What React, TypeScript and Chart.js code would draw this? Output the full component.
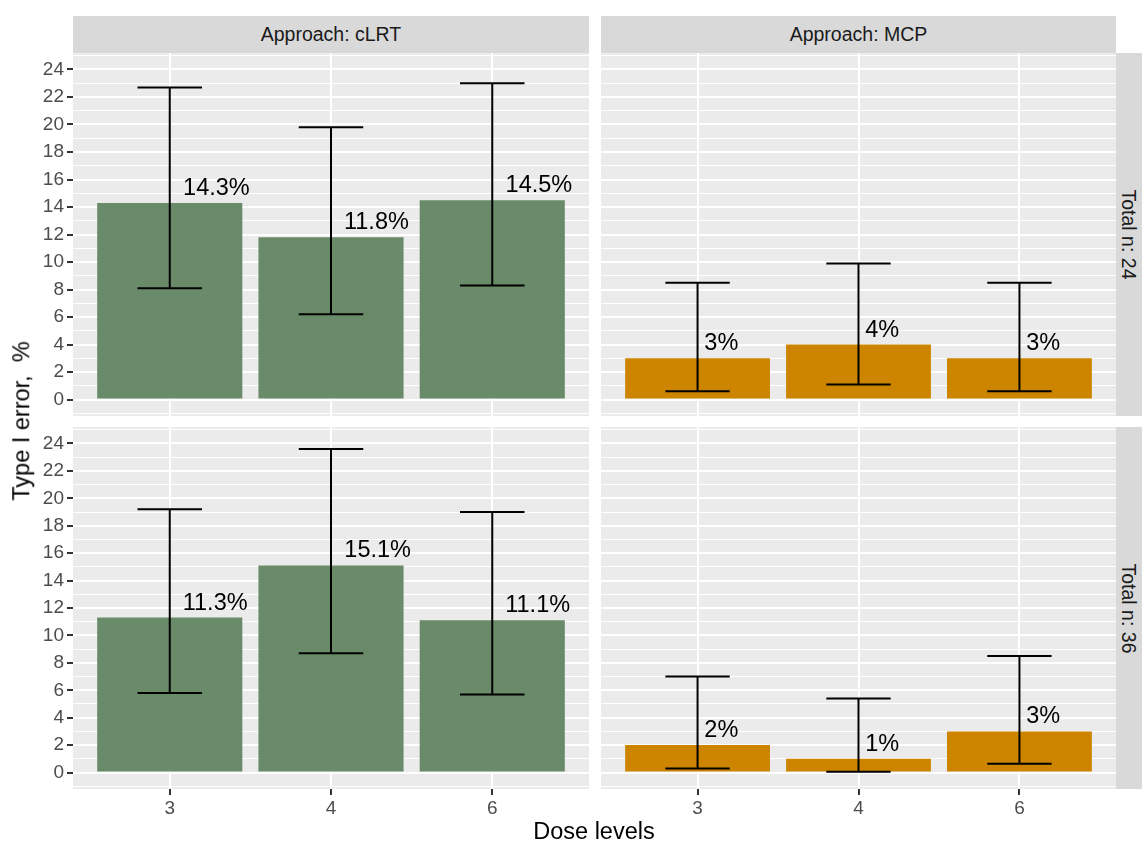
import React, { useEffect, useRef } from 'react';
import { Chart, registerables } from 'chart.js';

Chart.register(...registerables);

const FONT = '"Liberation Sans", Arial, Helvetica, sans-serif';

// Facet labels and x categories
const doseLevels = ['3', '4', '6'];
const approachLabels = ['Approach: cLRT', 'Approach: MCP'];
const totalNLabels = ['Total n: 24', 'Total n: 36'];

// Y breaks: labelled majors and unlabelled minors
const yMajorBreaks = [0, 2, 4, 6, 8, 10, 12, 14, 16, 18, 20, 22, 24];
const yMinorBreaks = [-1, 1, 3, 5, 7, 9, 11, 13, 15, 17, 19, 21, 23, 25];
const yLimits = [-1.2, 25.2];

// Type I error (%) with confidence limits, per approach and total n
const clrtN24Rate = [14.3, 11.8, 14.5];
const clrtN24Lower = [8.1, 6.2, 8.3];
const clrtN24Upper = [22.7, 19.8, 23.0];

const mcpN24Rate = [3, 4, 3];
const mcpN24Lower = [0.6, 1.1, 0.6];
const mcpN24Upper = [8.5, 9.9, 8.5];

const clrtN36Rate = [11.3, 15.1, 11.1];
const clrtN36Lower = [5.8, 8.7, 5.7];
const clrtN36Upper = [19.2, 23.6, 19.0];

const mcpN36Rate = [2, 1, 3];
const mcpN36Lower = [0.3, 0.05, 0.65];
const mcpN36Upper = [7.0, 5.4, 8.5];

const CLRT_COLOR = '#698B69';
const MCP_COLOR = '#CD8500';

const TICK_FONT_SIZE = 19;
const STRIP_FONT_SIZE = 19.5;
const TITLE_FONT_SIZE = 23.5;
const LABEL_FONT_SIZE = 23.5;

const isMajor = (v: number) => yMajorBreaks.includes(v);

type PanelProps = {
  rates: number[];
  lower: number[];
  upper: number[];
  color: string;
  showY: boolean;
  showX: boolean;
  left: number;
  top: number;
  width: number;
  height: number;
  yAxisWidth: number;
  xAxisHeight: number;
};

function Panel(p: PanelProps) {
  const ref = useRef<HTMLCanvasElement>(null);

  useEffect(() => {
    const canvas = ref.current;
    if (!canvas) return;

    const panelBackground = {
      id: 'panelBackground',
      beforeDraw(chart: any) {
        const { ctx, chartArea: a } = chart;
        ctx.save();
        ctx.fillStyle = '#EBEBEB';
        ctx.fillRect(a.left, a.top, a.right - a.left, a.bottom - a.top);
        ctx.restore();
      },
    };

    const errorBarsAndLabels = {
      id: 'errorBarsAndLabels',
      afterDatasetsDraw(chart: any) {
        const { ctx } = chart;
        const x = chart.scales.x;
        const y = chart.scales.y;
        ctx.save();
        ctx.strokeStyle = '#000000';
        ctx.lineWidth = 2;
        ctx.lineCap = 'butt';
        p.rates.forEach((_r, i) => {
          const cx = x.getPixelForValue(i + 1);
          const half = x.getPixelForValue(i + 1.2) - cx;
          const yl = y.getPixelForValue(p.lower[i]);
          const yu = y.getPixelForValue(p.upper[i]);
          ctx.beginPath();
          ctx.moveTo(cx, yu);
          ctx.lineTo(cx, yl);
          ctx.moveTo(cx - half, yu);
          ctx.lineTo(cx + half, yu);
          ctx.moveTo(cx - half, yl);
          ctx.lineTo(cx + half, yl);
          ctx.stroke();
        });
        ctx.fillStyle = '#000000';
        ctx.font = `${LABEL_FONT_SIZE}px ${FONT}`;
        ctx.textAlign = 'left';
        ctx.textBaseline = 'alphabetic';
        p.rates.forEach((r, i) => {
          const text = `${r}%`;
          const w = ctx.measureText(text).width;
          const cx = x.getPixelForValue(i + 1);
          ctx.fillText(text, cx + 0.2 * w, y.getPixelForValue(r) - 8);
        });
        ctx.restore();
      },
    };

    const chart = new Chart(canvas, {
      type: 'bar',
      data: {
        datasets: [
          {
            data: p.rates.map((r, i) => ({ x: i + 1, y: r })),
            backgroundColor: p.color,
            borderWidth: 0,
            barPercentage: 0.9,
            categoryPercentage: 1,
          },
        ],
      },
      options: {
        responsive: false,
        animation: false,
        events: [],
        layout: { padding: 0 },
        plugins: { legend: { display: false }, tooltip: { enabled: false } },
        scales: {
          x: {
            type: 'linear',
            min: 0.4,
            max: 3.6,
            offset: false,
            afterBuildTicks: (s: any) => {
              s.ticks = doseLevels.map((_d, i) => ({ value: i + 1 }));
            },
            afterFit: (s: any) => {
              s.height = p.xAxisHeight;
              s.paddingLeft = 0;
              s.paddingRight = 0;
            },
            border: { display: false },
            grid: {
              offset: false,
              color: '#FFFFFF',
              lineWidth: 2,
              drawTicks: p.showX,
              tickLength: 6,
              tickWidth: 2,
              tickColor: '#333333',
            },
            ticks: {
              display: p.showX,
              autoSkip: false,
              maxRotation: 0,
              color: '#4D4D4D',
              font: { size: TICK_FONT_SIZE, family: FONT },
              padding: 2,
              callback: (_v: any, i: number) => doseLevels[i],
            },
          },
          y: {
            type: 'linear',
            min: yLimits[0],
            max: yLimits[1],
            afterBuildTicks: (s: any) => {
              s.ticks = [...yMinorBreaks, ...yMajorBreaks]
                .sort((a, b) => a - b)
                .map((v) => ({ value: v }));
            },
            afterFit: (s: any) => {
              s.width = p.yAxisWidth;
              s.paddingTop = 0;
              s.paddingBottom = 0;
            },
            border: { display: false },
            grid: {
              color: '#FFFFFF',
              lineWidth: (ctx: any) => (ctx.tick && isMajor(ctx.tick.value) ? 2 : 1),
              drawTicks: p.showY,
              tickLength: 6,
              tickWidth: 2,
              tickColor: (ctx: any) =>
                ctx.tick && isMajor(ctx.tick.value) ? '#333333' : 'rgba(0,0,0,0)',
            },
            ticks: {
              display: p.showY,
              autoSkip: false,
              color: '#4D4D4D',
              font: { size: TICK_FONT_SIZE, family: FONT },
              padding: 3,
              callback: (v: any) => (isMajor(Number(v)) ? String(v) : ''),
            },
          },
        },
      },
      plugins: [panelBackground, errorBarsAndLabels],
    } as any);

    return () => chart.destroy();
  }, []);

  return (
    <canvas
      ref={ref}
      width={p.width}
      height={p.height}
      style={{ position: 'absolute', left: p.left, top: p.top, width: p.width, height: p.height }}
    />
  );
}

const stripStyle: React.CSSProperties = {
  position: 'absolute',
  background: '#D9D9D9',
  color: '#1A1A1A',
  fontFamily: FONT,
  fontSize: STRIP_FONT_SIZE,
  display: 'flex',
  alignItems: 'center',
  justifyContent: 'center',
  whiteSpace: 'nowrap',
  overflow: 'hidden',
};

export default function App() {
  const L = 73; // left panel x
  const R = 601; // right panel x
  const PW = 516;
  const T1 = 53;
  const T2 = 427;
  const PH1 = 363;
  const PH2 = 362;
  return (
    <div
      style={{
        position: 'absolute',
        left: 0,
        top: 0,
        width: 1143,
        height: 841,
        background: '#FFFFFF',
        overflow: 'hidden',
      }}
    >
      <Panel rates={clrtN24Rate} lower={clrtN24Lower} upper={clrtN24Upper} color={CLRT_COLOR}
        showY showX={false} left={0} top={T1} width={L + PW} height={PH1} yAxisWidth={L} xAxisHeight={0} />
      <Panel rates={mcpN24Rate} lower={mcpN24Lower} upper={mcpN24Upper} color={MCP_COLOR}
        showY={false} showX={false} left={R} top={T1} width={515} height={PH1} yAxisWidth={0} xAxisHeight={0} />
      <Panel rates={clrtN36Rate} lower={clrtN36Lower} upper={clrtN36Upper} color={CLRT_COLOR}
        showY showX left={0} top={T2} width={L + PW} height={PH2 + 30} yAxisWidth={L} xAxisHeight={30} />
      <Panel rates={mcpN36Rate} lower={mcpN36Lower} upper={mcpN36Upper} color={MCP_COLOR}
        showY={false} showX left={R} top={T2} width={515} height={PH2 + 30} yAxisWidth={0} xAxisHeight={30} />

      <div style={{ ...stripStyle, left: L, top: 16, width: PW, height: 37 }}>{approachLabels[0]}</div>
      <div style={{ ...stripStyle, left: R, top: 16, width: 515, height: 37 }}>{approachLabels[1]}</div>

      <div style={{ ...stripStyle, left: 1116, top: T1, width: 26, height: PH1 }}>
        <span style={{ transform: 'rotate(90deg)', display: 'inline-block' }}>{totalNLabels[0]}</span>
      </div>
      <div style={{ ...stripStyle, left: 1116, top: T2, width: 26, height: PH2 }}>
        <span style={{ transform: 'rotate(90deg)', display: 'inline-block' }}>{totalNLabels[1]}</span>
      </div>

      <div
        style={{
          position: 'absolute',
          left: 22,
          top: 421,
          transform: 'translate(-50%, -50%) rotate(-90deg)',
          fontFamily: FONT,
          fontSize: TITLE_FONT_SIZE,
          color: '#000000',
          whiteSpace: 'pre',
          lineHeight: 1,
        }}
      >
        {'Type I error,  %'}
      </div>
      <div
        style={{
          position: 'absolute',
          left: 594,
          top: 832,
          transform: 'translate(-50%, -50%)',
          fontFamily: FONT,
          fontSize: TITLE_FONT_SIZE,
          color: '#000000',
          whiteSpace: 'nowrap',
          lineHeight: 1,
        }}
      >
        Dose levels
      </div>
    </div>
  );
}
